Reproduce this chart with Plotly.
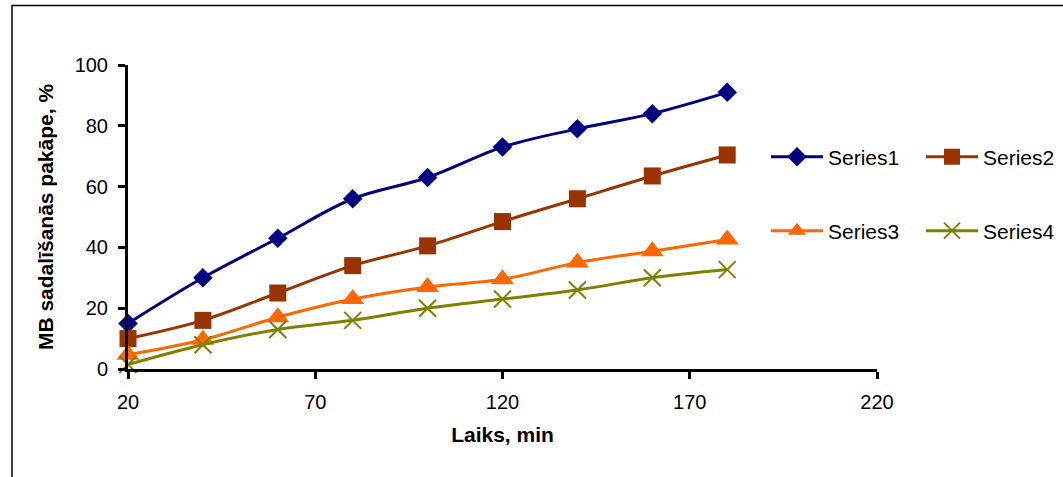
import plotly.graph_objects as go

time_min = [20, 40, 60, 80, 100, 120, 140, 160, 180]
series1 = [15, 30, 43, 56, 63, 73, 79, 84, 91]
series2 = [10, 16, 25, 34, 40.5, 48.5, 56, 63.5, 70.4]
series3 = [4.7, 9.6, 17, 23, 27, 29.5, 35, 38.7, 42.6]
series4 = [1.5, 8, 13, 16, 20, 23, 26, 30, 32.7]

names = ["Series1", "Series2", "Series3", "Series4"]
values = [series1, series2, series3, series4]
colors = ["#000080", "#993300", "#FF6600", "#808000"]
symbols = ["diamond", "square", "triangle-up", "x-thin-open"]
sizes = [15, 17, 20, 17]
legends = ["legend", "legend", "legend2", "legend2"]

fig = go.Figure()
for n, v, c, s, sz, lg in zip(names, values, colors, symbols, sizes, legends):
    marker = dict(symbol=s, size=sz, color=c)
    if s == "x-thin-open":
        marker["line"] = dict(color=c, width=2)
    fig.add_trace(go.Scatter(
        x=time_min, y=v, name=n, mode="lines+markers",
        line=dict(color=c, width=3, shape="spline", smoothing=1.0),
        marker=marker, cliponaxis=False, legend=lg,
    ))

W, H = 1063, 477
L, R, T, B = 128, 877, 65, 369
pw, ph = R - L, B - T

def px(x):
    return (x - L) / pw

def py(y):
    return (B - y) / ph

font = dict(family="Liberation Sans, Arial, sans-serif", size=20, color="#000000")

leg_common = dict(
    orientation="h", xref="container", yref="container",
    xanchor="left", yanchor="middle",
    font=dict(size=21), itemwidth=52, bgcolor="rgba(0,0,0,0)",
    entrywidth=88, entrywidthmode="pixels",
)

fig.update_layout(
    width=W, height=H,
    margin=dict(l=L, r=W - R, t=T, b=H - B, pad=0, autoexpand=False),
    paper_bgcolor="white", plot_bgcolor="white",
    font=font,
    xaxis=dict(
        range=[20, 220], tickvals=[20, 70, 120, 170, 220],
        showgrid=False, zeroline=False, showline=True, linecolor="black", linewidth=3,
        ticks="outside", ticklen=7, tickwidth=3, tickcolor="black",
        tickfont=dict(size=20), ticklabelstandoff=6, automargin=False,
        title=dict(text="<b>Laiks, min</b>", font=dict(size=21), standoff=16),
    ),
    yaxis=dict(
        range=[0, 100], tickvals=[0, 20, 40, 60, 80, 100],
        showgrid=False, zeroline=False, showline=True, linecolor="black", linewidth=3,
        ticks="outside", ticklen=7, tickwidth=3, tickcolor="black",
        tickfont=dict(size=20), ticklabelstandoff=6, automargin=False,
        title=dict(text="<b>MB sadalīšanās pakāpe, %</b>", font=dict(size=21), standoff=16),
    ),
    legend=dict(x=766 / W, y=1 - 157 / H, **leg_common),
    legend2=dict(x=766 / W, y=1 - 231 / H, **leg_common),
    shapes=[
        dict(type="rect", xref="paper", yref="paper",
             x0=px(12), x1=px(1080), y0=py(495), y1=py(5.5),
             line=dict(color="#000000", width=1.5), fillcolor="rgba(0,0,0,0)", layer="below"),
    ],
)

fig.write_html("out.html")
